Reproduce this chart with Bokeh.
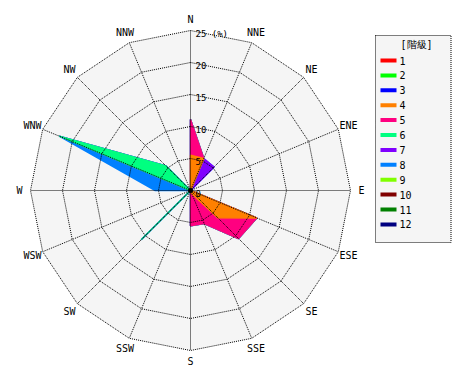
import math
from bokeh.plotting import figure
from bokeh.models import Range1d
from bokeh.core.properties import value
from bokeh.embed import file_html
from bokeh.resources import INLINE

# ---------------- data ----------------
directions = ["N", "NNE", "NE", "ENE", "E", "ESE", "SE", "SSE",
              "S", "SSW", "SW", "WSW", "W", "WNW", "NW", "NNW"]
class_labels = ["1", "2", "3", "4", "5", "6", "7", "8", "9", "10", "11", "12"]
class_colors = ["#ff0000", "#00ff00", "#0000ff", "#ff8000", "#ff0080", "#00ff80",
                "#8000ff", "#0080ff", "#80ff00", "#800000", "#008000", "#000080"]

# frequency (%) of each class per direction (N, NNE, ... NNW)
cls1 = [0, 0, 0, 0, 0, 0, 0, 0, 0, 0, 0, 0, 0, 0, 0, 0]
cls2 = [0, 0, 0, 0, 0, 0, 0, 0, 0, 0, 0, 0, 0, 0, 0, 0]
cls3 = [0, 0, 0, 0, 0, 0, 0, 0, 0, 0, 0, 0, 0, 0, 0, 0]
cls4 = [5.5, 5.4, 0, 0, 0, 11.2, 6.0, 0.5, 0, 0, 0, 0, 0, 0, 0, 0]
cls5 = [5.6, 0, 0, 0, 0, 0, 4.6, 5.1, 5.5, 0, 0, 0, 0, 0, 0, 0]
cls6 = [0, 0, 0, 0, 0, 0, 0, 0, 0, 0, 10.9, 0, 0, 22.2, 5.4, 0]
cls7 = [0, 0, 5.2, 0, 0, 0, 0, 0, 0, 0, 0, 0, 0, 0, 0, 0]
cls8 = [0, 0, 0, 0, 0, 0, 0, 0, 0, 0, 0, 0, 5.5, 0, 0, 0]
cls9 = [0, 0, 0, 0, 0, 0, 0, 0, 0, 0, 0, 0, 0, 0, 0, 0]
cls10 = [0, 0, 0, 0, 0, 0, 0, 0, 0, 0, 0, 0, 0, 0, 0, 0]
cls11 = [0, 0, 0, 0, 0, 0, 0, 0, 0, 0, 0, 0, 0, 0, 0, 0]
cls12 = [0, 0, 0, 0, 0, 0, 0, 0, 0, 0, 0, 0, 0, 0, 0, 0]
series = [cls1, cls2, cls3, cls4, cls5, cls6, cls7, cls8, cls9, cls10, cls11, cls12]

ring_values = [5, 10, 15, 20, 25]
ring_labels = ["5", "10", "15", "20", "25 (%)"]

# ---------------- layout helpers ----------------
W, H = 470, 380
CX, CY = 190, 190          # centre in pixels
PPU = 6.4                  # pixels per percent
RMAX = 25
FONT = value("DejaVu Sans Mono")


def px(xp, yp):
    return (xp - CX) / PPU, (CY - yp) / PPU


def polar(r, i):
    a = math.radians(i * 22.5)
    return r * math.sin(a), r * math.cos(a)


p = figure(width=W, height=H, output_backend="svg", toolbar_location=None,
           x_range=Range1d(-CX / PPU, (W - CX) / PPU),
           y_range=Range1d(-(H - CY) / PPU, CY / PPU),
           x_axis_type=None, y_axis_type=None, min_border=0)
p.grid.visible = False
p.outline_line_color = None
p.background_fill_color = "white"
p.border_fill_color = "white"

n = len(directions)

# background polygon
bx = [polar(RMAX, i)[0] for i in range(n)]
by = [polar(RMAX, i)[1] for i in range(n)]
p.patch(bx, by, fill_color="#f5f5f5", line_color=None)

# cumulative stacked polygons, largest class first
cum = []
run = [0.0] * n
for s in series:
    run = [a + b for a, b in zip(run, s)]
    cum.append(run)
for k in range(len(series) - 1, -1, -1):
    if not any(series[k]):
        continue
    xs = [polar(cum[k][i], i)[0] for i in range(n)]
    ys = [polar(cum[k][i], i)[1] for i in range(n)]
    p.patch(xs, ys, fill_color=class_colors[k], line_color=class_colors[k],
            line_width=1.5)

# grid rings
for r in ring_values:
    xs = [polar(r, i)[0] for i in range(n + 1)]
    ys = [polar(r, i)[1] for i in range(n + 1)]
    p.line(xs, ys, line_color="black", line_width=1, line_dash="1 1")
# spokes
for i in range(n):
    x1, y1 = polar(RMAX, i)
    p.line([0, x1], [0, y1], line_color="black", line_width=1, line_dash="1 1")

p.scatter([0], [0], size=4, color="black")

# direction labels
lr = 171 / PPU
lx = [polar(lr, i)[0] for i in range(n)]
ly = [polar(lr, i)[1] for i in range(n)]
p.text(x=lx, y=ly, text=directions, text_font=FONT, text_font_size="10px",
       text_align="center", text_baseline="middle", text_color="black")

# ring labels
p.text(x=[5 / PPU] * (len(ring_values) + 1),
       y=[r - 3 / PPU for r in [0] + ring_values],
       text=["0"] + ring_labels, text_font=FONT, text_font_size="9px",
       text_align="left", text_baseline="middle", text_color="black")

# legend box
lx0, ly0 = px(375, 35)
lx1, ly1 = px(450.5, 242)
p.quad(left=[lx0], right=[lx1], top=[ly0], bottom=[ly1], fill_color="#f5f5f5",
       line_color="black", line_width=1, line_dash="1 1")
tx, ty = px(416, 44)
p.text(x=[tx], y=[ty], text=["[階級]"], text_font=FONT, text_font_size="10px",
       text_align="center", text_baseline="middle", text_color="black")
for k, (lab, col) in enumerate(zip(class_labels, class_colors)):
    yc = 60 + 14.9 * k
    a, t = px(380, yc - 2)
    b, bt = px(396, yc + 2)
    p.quad(left=[a], right=[b], top=[t], bottom=[bt], fill_color=col, line_color=None)
    qx, qy = px(399, yc)
    p.text(x=[qx], y=[qy], text=[lab], text_font=FONT, text_font_size="10px",
           text_align="left", text_baseline="middle", text_color="black")

open("out.html", "w").write(file_html(p, INLINE))
